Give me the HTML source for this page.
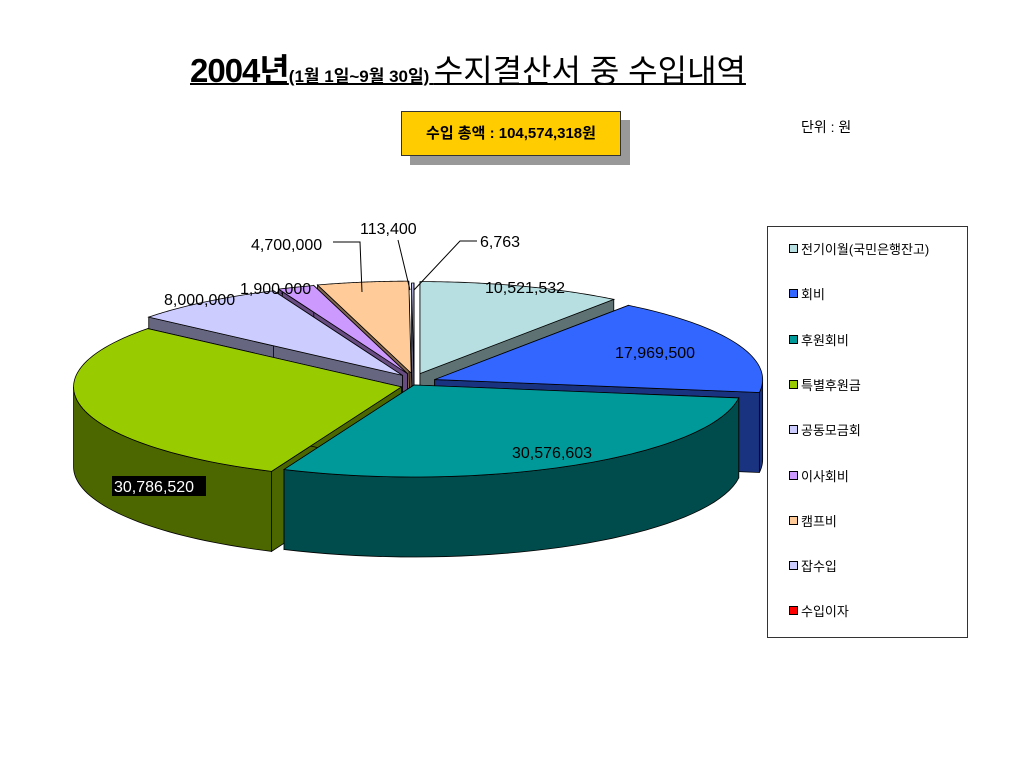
<!DOCTYPE html>
<html><head><meta charset="utf-8">
<style>
body{margin:0;width:1024px;height:768px;background:#fff;position:relative;overflow:hidden;font-family:"Liberation Sans","Noto Sans CJK KR",sans-serif}
.abs{position:absolute}
</style></head><body>
<div class="abs" style="left:190px;top:44px;width:645px;white-space:nowrap;text-decoration:underline;text-decoration-thickness:2px;color:#000">
<span style="font-size:33px;font-weight:bold;letter-spacing:-1px">2004년</span><span style="font-size:17px;font-weight:bold">(1월 1일~9월 30일)</span> <span style="font-size:32px">수지결산서 중 수입내역</span></div>
<div class="abs" style="left:410px;top:120px;width:220px;height:45px;background:#999"></div>
<div class="abs" style="left:401px;top:111px;width:218px;height:43px;background:#FFCC00;border:1px solid #333;font-size:15px;font-weight:bold;line-height:43px;text-align:center">수입 총액 : 104,574,318원</div>
<div class="abs" style="left:801px;top:117px;font-size:14px">단위 : 원</div>
<svg class="abs" style="left:0;top:0" width="1024" height="768" id="pie"></svg>
<div class="abs" id="legend" style="left:767px;top:226px;width:199px;height:410px;border:1px solid #333;background:#fff"></div>
<script>
const categories=["전기이월(국민은행잔고)","회비","후원회비","특별후원금","공동모금회","이사회비","캠프비","잡수입","수입이자"];
const values=[10521532,17969500,30576603,30786520,8000000,1900000,4700000,113400,6763];
const labels=["10,521,532","17,969,500","30,576,603","30,786,520","8,000,000","1,900,000","4,700,000","113,400","6,763"];
const topColors=["#B7DEE0","#3366FF","#009999","#99CC00","#CCCCFF","#CC99FF","#FFCC99","#CCCCFF","#FF0000"];
const sideColors=["#5E7273","#1A3380","#004C4C","#4C6600","#666680","#664C80","#806650","#666680","#800000"];
const explode=[12,14,0,8,12,12,12,10,10];
const labelPos=[[485,293],[615,358],[512,458],[114,492],[164,305],[240,294],[251,250],[360,234],[480,247]];
const NS="http://www.w3.org/2000/svg";
const svg=document.getElementById('pie');
const cx=414,cy=385,rx=328,ry=92,depth=80;
const total=values.reduce((a,b)=>a+b,0);
function pt(t,ox,oy,dz){return [ox+rx*Math.sin(t),oy-ry*Math.cos(t)+dz];}
function mk(tag,attrs){const e=document.createElementNS(NS,tag);for(const k in attrs)e.setAttribute(k,attrs[k]);return e;}
let acc=0;const slices=[];
values.forEach((v,i)=>{const a0=acc/total*2*Math.PI;acc+=v;const a1=acc/total*2*Math.PI;const m=(a0+a1)/2;
slices.push({i,a0,a1,m,ox:cx+explode[i]*Math.sin(m)*1.6,oy:cy-explode[i]*Math.cos(m)});});
const order=slices.slice().sort((a,b)=>(-Math.cos(a.m))-(-Math.cos(b.m)));
order.forEach(s=>{
 const g=mk('g',{});
 
 
 const st='stroke:#000;stroke-width:0.8';
 [s.a0,s.a1].forEach(a=>{const p=pt(a,s.ox,s.oy,0);
  const f=mk('polygon',{points:`${s.ox},${s.oy} ${p[0]},${p[1]} ${p[0]},${p[1]+depth} ${s.ox},${s.oy+depth}`,style:`fill:${sideColors[s.i]};${st}`});
  
  
  g.appendChild(f);});
 const lo=Math.max(s.a0,Math.PI/2),hi=Math.min(s.a1,Math.PI*1.5);
 if(hi>lo){let d='';const n=40;
  for(let k=0;k<=n;k++){const p=pt(lo+(hi-lo)*k/n,s.ox,s.oy,0);d+=(k?'L':'M')+p[0]+','+p[1];}
  for(let k=n;k>=0;k--){const p=pt(lo+(hi-lo)*k/n,s.ox,s.oy,depth);d+='L'+p[0]+','+p[1];}
  const w=mk('path',{d:d+'Z',style:`fill:${sideColors[s.i]};${st}`});
  
  
  g.appendChild(w);}
 let d=`M${s.ox},${s.oy}`;const n=60;
 for(let k=0;k<=n;k++){const p=pt(s.a0+(s.a1-s.a0)*k/n,s.ox,s.oy,0);d+='L'+p[0]+','+p[1];}
 const t=mk('path',{d:d+'Z',style:`fill:${topColors[s.i]};${st}`});
 
 
 g.appendChild(t);
 svg.appendChild(g);
});
labels.forEach((l,i)=>{const [x,y]=labelPos[i];
 if(i===3){const r=mk('rect',{x:x-2,y:y-16,width:94,height:20,fill:'#000'});
  
  
  svg.appendChild(r);}
 const tx=mk('text',{x:x,y:y,'font-size':'16',fill:i===3?'#fff':'#000','font-family':'Liberation Sans, sans-serif'});
 
 
 tx.textContent=l;svg.appendChild(tx);});
const lines=[[[333,242],[360,242],[362,292]],[[398,240],[410,290]],[[477,241],[460,241],[414,290]]];
lines.forEach(p=>{const pl=mk('polyline',{points:p.map(q=>q.join(',')).join(' '),fill:'none',stroke:'#000','stroke-width':1});
 
 
 svg.appendChild(pl);});
const leg=document.getElementById('legend');
categories.forEach((c,i)=>{const e=document.createElement('div');
 
 
 e.style.cssText=`position:absolute;left:21px;top:${15+i*45.3}px;font-size:13px;white-space:nowrap;line-height:16px`;
 e.innerHTML=`<span style="display:inline-block;width:7px;height:7px;border:1px solid #000;background:${topColors[i]};margin-right:3px;vertical-align:1px"></span>${c}`;
 leg.appendChild(e);});
</script>
</body></html>
